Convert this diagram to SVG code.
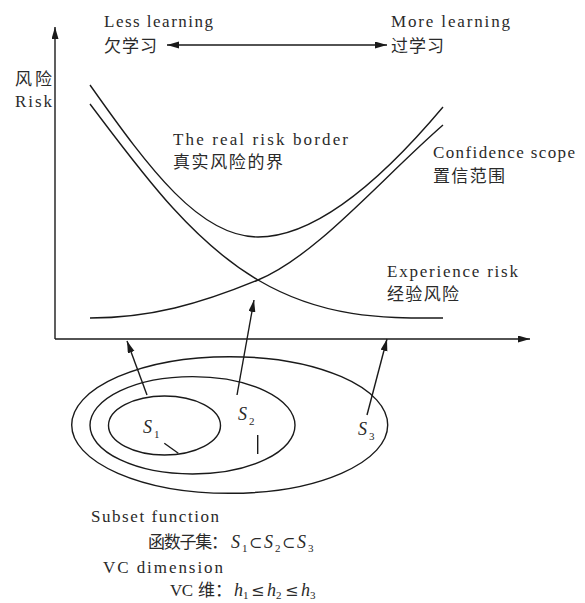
<svg xmlns="http://www.w3.org/2000/svg" width="585" height="603" viewBox="0 0 585 603">
<style>
.ln{fill:none;stroke:#1a1a1a;stroke-width:1.4}
.ar{fill:none;stroke:#1a1a1a;stroke-width:1.4;marker-end:url(#ah)}
.t{font-family:'Liberation Serif',serif;font-size:17px;fill:#2a2a2a}
.c{font-family:'Noto Sans CJK SC',sans-serif;font-size:17px;fill:#2a2a2a}
.m{font-family:'Liberation Serif',serif;font-size:18px;font-style:italic;fill:#2a2a2a}
.s{font-family:'Liberation Serif',serif;font-size:11px;fill:#2a2a2a}
.o{font-family:'DejaVu Serif',serif;font-size:16px;fill:#2a2a2a}
</style>
<defs>
<marker id="ah" markerUnits="userSpaceOnUse" markerWidth="13" markerHeight="8" refX="12" refY="3.5" orient="auto-start-reverse">
<path d="M0,0 L12,3.5 L0,7 Z" fill="#1a1a1a"/>
</marker>
</defs>
<g id="axes">
<line class="ar" x1="55" y1="339" x2="55" y2="27"/>
<line class="ar" x1="55" y1="339" x2="530" y2="339"/>
<line class="ar" x1="280" y1="45" x2="167" y2="45"/>
<line class="ar" x1="280" y1="45" x2="387" y2="45"/>
</g>
<g id="curves">
<path id="real-risk" class="ln" d="M90,85 C150,170 200,237 258,237 C320,237 390,170 443,107"/>
<path id="confidence" class="ln" d="M90,104 C140,170 190,240 258,280 C326,320 390,318 443,318"/>
<path id="experience" class="ln" d="M90,318 C150,318 200,304 258,280 C316,256 380,180 443,125"/>
</g>
<g id="sets">
<ellipse id="S3" class="ln" cx="229.7" cy="425" rx="158" ry="68.3"/>
<ellipse id="S2" class="ln" cx="192.5" cy="425.3" rx="102.5" ry="48.7"/>
<ellipse id="S1" class="ln" cx="164.5" cy="425.5" rx="56" ry="29.5"/>
<line class="ln" x1="164.3" y1="443.3" x2="178.3" y2="453.3"/>
<line class="ln" x1="257.7" y1="435" x2="257.7" y2="454"/>
</g>
<g id="connectors">
<line class="ar" x1="147" y1="395" x2="127" y2="341"/>
<line class="ar" x1="237" y1="395" x2="254" y2="300"/>
<line class="ar" x1="367" y1="415" x2="387" y2="339"/>
</g>
<g id="labels">
<text class="t" x="104" y="27" textLength="109" lengthAdjust="spacing">Less learning</text>
<text class="c" x="104" y="52" textLength="53" lengthAdjust="spacing">欠学习</text>
<text class="t" x="391" y="27" textLength="119" lengthAdjust="spacing">More learning</text>
<text class="c" x="391" y="52" textLength="53" lengthAdjust="spacing">过学习</text>
<text class="c" x="15" y="85" textLength="37" lengthAdjust="spacing">风险</text>
<text class="t" x="15" y="107" textLength="37" lengthAdjust="spacing">Risk</text>
<text class="t" x="173" y="145" textLength="175" lengthAdjust="spacing">The real risk border</text>
<text class="c" x="173" y="168" textLength="110" lengthAdjust="spacing">真实风险的界</text>
<text class="t" x="433" y="158" textLength="142" lengthAdjust="spacing">Confidence scope</text>
<text class="c" x="433" y="182" textLength="72" lengthAdjust="spacing">置信范围</text>
<text class="t" x="387" y="277" textLength="131" lengthAdjust="spacing">Experience risk</text>
<text class="c" x="387" y="300" textLength="72" lengthAdjust="spacing">经验风险</text>
<text class="m" x="143" y="433">S</text><text class="s" x="154" y="438">1</text>
<text class="m" x="238" y="420">S</text><text class="s" x="249" y="425">2</text>
<text class="m" x="358" y="435">S</text><text class="s" x="369" y="440">3</text>
<text class="t" x="91" y="522" textLength="128" lengthAdjust="spacing">Subset function</text>
<text class="c" x="148" y="548" textLength="80" lengthAdjust="spacing">函数子集：</text>
<text class="m" x="231" y="548">S</text><text class="s" x="242" y="552">1</text>
<text class="o" x="249" y="548">⊂</text>
<text class="m" x="264" y="548">S</text><text class="s" x="275" y="552">2</text>
<text class="o" x="282" y="548">⊂</text>
<text class="m" x="297" y="548">S</text><text class="s" x="308" y="552">3</text>
<text class="t" x="103" y="573" textLength="120" lengthAdjust="spacing">VC dimension</text>
<text class="t" x="170" y="596" textLength="23" lengthAdjust="spacing">VC</text>
<text class="c" x="198" y="596">维：</text>
<text class="m" x="234" y="596">h</text><text class="s" x="243" y="599">1</text>
<text class="o" x="251" y="596">≤</text>
<text class="m" x="267" y="596">h</text><text class="s" x="276" y="599">2</text>
<text class="o" x="285" y="596">≤</text>
<text class="m" x="301" y="596">h</text><text class="s" x="310" y="599">3</text>
</g>
</svg>
